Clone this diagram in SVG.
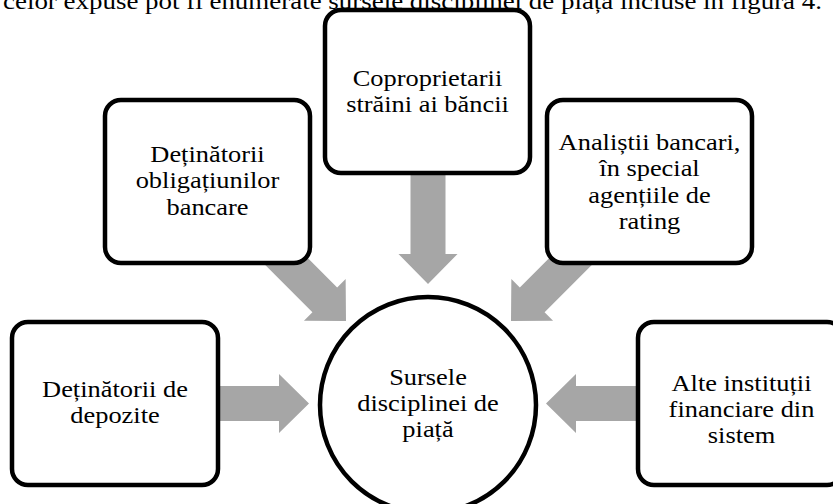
<svg xmlns="http://www.w3.org/2000/svg" width="833" height="504" viewBox="0 0 833 504">
<style>
.box{fill:#fff;stroke:#000;stroke-width:4.5}
.arr{fill:#a6a6a6}
.t{font-family:'Liberation Serif','Times New Roman','DejaVu Serif',serif;font-size:24px;fill:#000;text-anchor:middle}
</style>
<defs>
<polygon id="arrow" points="0,0 -30,-29.5 -30,-17.5 -120,-17.5 -120,17.5 -30,17.5 -30,29.5"/>
</defs>
<rect width="833" height="504" fill="#fff"/>
<text x="3" y="9" font-family="'Liberation Serif','Times New Roman',serif" font-size="24" textLength="819" lengthAdjust="spacingAndGlyphs">celor expuse pot fi enumerate sursele disciplinei de piață incluse în figura 4.</text>
<g id="connectors" class="arr">
<use href="#arrow" transform="translate(428,284) rotate(90)"/>
<use href="#arrow" transform="translate(346,321) rotate(45)"/>
<use href="#arrow" transform="translate(511,321) rotate(135)"/>
<use href="#arrow" transform="translate(309,403.5)"/>
<use href="#arrow" transform="translate(546,403.5) rotate(180)"/>
</g>
<g id="n-top">
<rect class="box" x="325" y="10" width="205" height="163" rx="16"/>
<g class="t" transform="translate(427.5,0) scale(1.1,1)">
<text x="0" y="86">Coproprietarii</text>
<text x="0" y="112">străini ai băncii</text>
</g>
</g>
<g id="n-left">
<rect class="box" x="105" y="100" width="205" height="163" rx="16"/>
<g class="t" transform="translate(207.5,0) scale(1.1,1)">
<text x="0" y="162">Deținătorii</text>
<text x="0" y="188.5">obligațiunilor</text>
<text x="0" y="215">bancare</text>
</g>
</g>
<g id="n-right">
<rect class="box" x="547" y="100" width="205" height="163" rx="16"/>
<g class="t" transform="translate(649.5,0) scale(1.1,1)">
<text x="0" y="150">Analiștii bancari,</text>
<text x="0" y="176.5">în special</text>
<text x="0" y="203">agențiile de</text>
<text x="0" y="229.5">rating</text>
</g>
</g>
<g id="n-bl">
<rect class="box" x="12" y="322" width="206" height="163" rx="16"/>
<g class="t" transform="translate(115,0) scale(1.1,1)">
<text x="0" y="397">Deținătorii de</text>
<text x="0" y="423">depozite</text>
</g>
</g>
<g id="n-br">
<rect class="box" x="638" y="322" width="205" height="163" rx="16"/>
<g class="t" transform="translate(741.5,0) scale(1.1,1)">
<text x="0" y="391.5">Alte instituții</text>
<text x="0" y="417.5">financiare din</text>
<text x="0" y="443.5">sistem</text>
</g>
</g>
<g id="n-center">
<circle class="box" cx="428" cy="405" r="108"/>
<g class="t" transform="translate(428,0) scale(1.1,1)">
<text x="0" y="385">Sursele</text>
<text x="0" y="411.5">disciplinei de</text>
<text x="0" y="437">piață</text>
</g>
</g>
</svg>
